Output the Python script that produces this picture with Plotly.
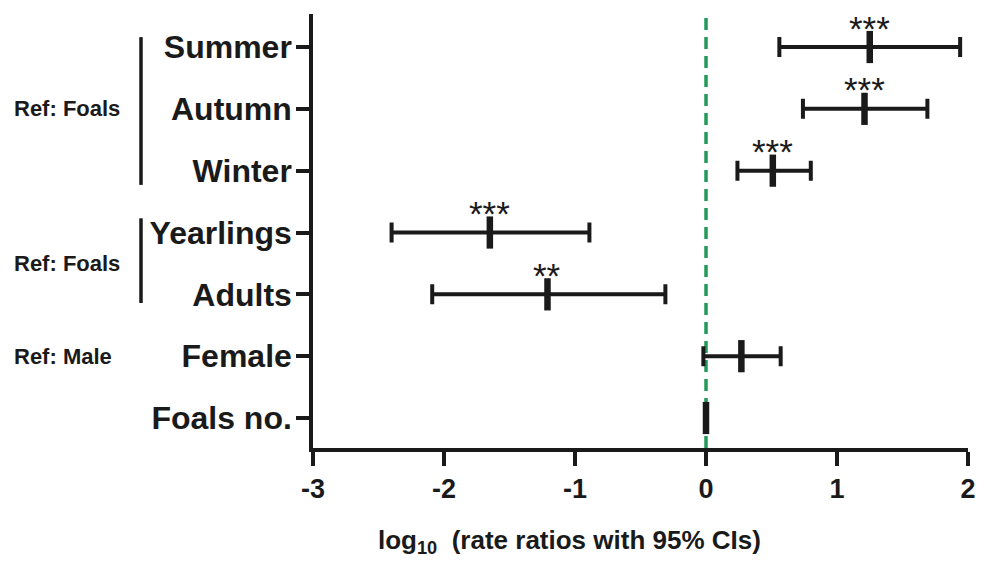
import plotly.graph_objects as go

# ---- data ----
categories = ["Summer", "Autumn", "Winter", "Yearlings", "Adults", "Female", "Foals no."]
estimate = [1.25, 1.21, 0.51, -1.65, -1.21, 0.27, 0.0]
ci_low = [0.56, 0.74, 0.24, -2.40, -2.09, -0.02, -0.005]
ci_high = [1.94, 1.69, 0.80, -0.89, -0.31, 0.57, 0.005]
stars = ["***", "***", "***", "***", "**", "", ""]
x_ticks = [-3, -2, -1, 0, 1, 2]
ref_groups = [("Ref: Foals", 5.0), ("Ref: Foals", 2.5), ("Ref: Male", 1.0)]

n = len(categories)
ypos = [n - 1 - i for i in range(n)]

FONT = "Arial, Liberation Sans, Helvetica, sans-serif"
INK = "#1a1a1a"

fig = go.Figure()
fig.add_trace(go.Scatter(
    x=estimate, y=ypos, mode="markers",
    marker=dict(symbol="line-ns", size=23, line=dict(width=6.5, color=INK), color=INK),
    error_x=dict(type="data", symmetric=False,
                 array=[h - e for h, e in zip(ci_high, estimate)],
                 arrayminus=[e - l for e, l in zip(estimate, ci_low)],
                 color=INK, thickness=4, width=10),
    showlegend=False, hoverinfo="skip",
))

# reference line at 0
fig.add_shape(type="line", xref="x", yref="paper", x0=0, x1=0, y0=0, y1=1,
              line=dict(color="#23995a", width=3.5, dash="12px,7px"), layer="below")

# significance stars
for xe, yv, s in zip(estimate, ypos, stars):
    if s:
        fig.add_annotation(x=xe, y=yv, text=s, showarrow=False, yshift=19,
                           font=dict(family=FONT, size=35, color=INK))

# group labels and brackets
W = 987 - 313 - 19
H = 448 - 14
def px_to_paper(px):
    return (px - 313) / W

for txt, yv in ref_groups:
    fig.add_annotation(xref="paper", yref="y", x=px_to_paper(12), y=yv, text=txt,
                       xanchor="left", showarrow=False,
                       font=dict(family=FONT, size=22, color=INK, weight="bold"))
for y0, y1 in [(3.77, 6.16), (1.86, 3.23)]:
    fig.add_shape(type="line", xref="paper", yref="y", x0=px_to_paper(141), x1=px_to_paper(141),
                  y0=y0, y1=y1, line=dict(color=INK, width=3.5))

# x-axis title
fig.add_annotation(xref="paper", yref="paper", x=px_to_paper(569), y=-(541 - 448) / H,
                   text="log<sub>10</sub>  (rate ratios with 95% CIs)", showarrow=False,
                   xanchor="center", yanchor="middle",
                   font=dict(family=FONT, size=26, color=INK, weight="bold"))

fig.update_layout(
    width=987, height=567,
    margin=dict(l=313, r=19, t=14, b=119),
    plot_bgcolor="white", paper_bgcolor="white",
    font=dict(family=FONT, color=INK),
)
fig.update_xaxes(range=[-3, 2], tickvals=x_ticks, ticktext=[str(t) for t in x_ticks],
                 showgrid=False, zeroline=False, showline=True, linecolor=INK, linewidth=3.5,
                 ticks="outside", ticklen=14, tickwidth=3.5, tickcolor=INK,
                 tickfont=dict(family=FONT, size=27, color=INK, weight="bold"))
fig.update_yaxes(range=[-0.485, 6.534], tickvals=ypos, ticktext=categories,
                 showgrid=False, zeroline=False, showline=True, linecolor=INK, linewidth=3.5,
                 ticks="outside", ticklen=13, tickwidth=3.5, tickcolor=INK,
                 ticklabelstandoff=-2,
                 tickfont=dict(family=FONT, size=32, color=INK, weight="bold"))

fig.write_html("out.html", config={"displayModeBar": False},
               post_script="document.body.style.margin='0';")
